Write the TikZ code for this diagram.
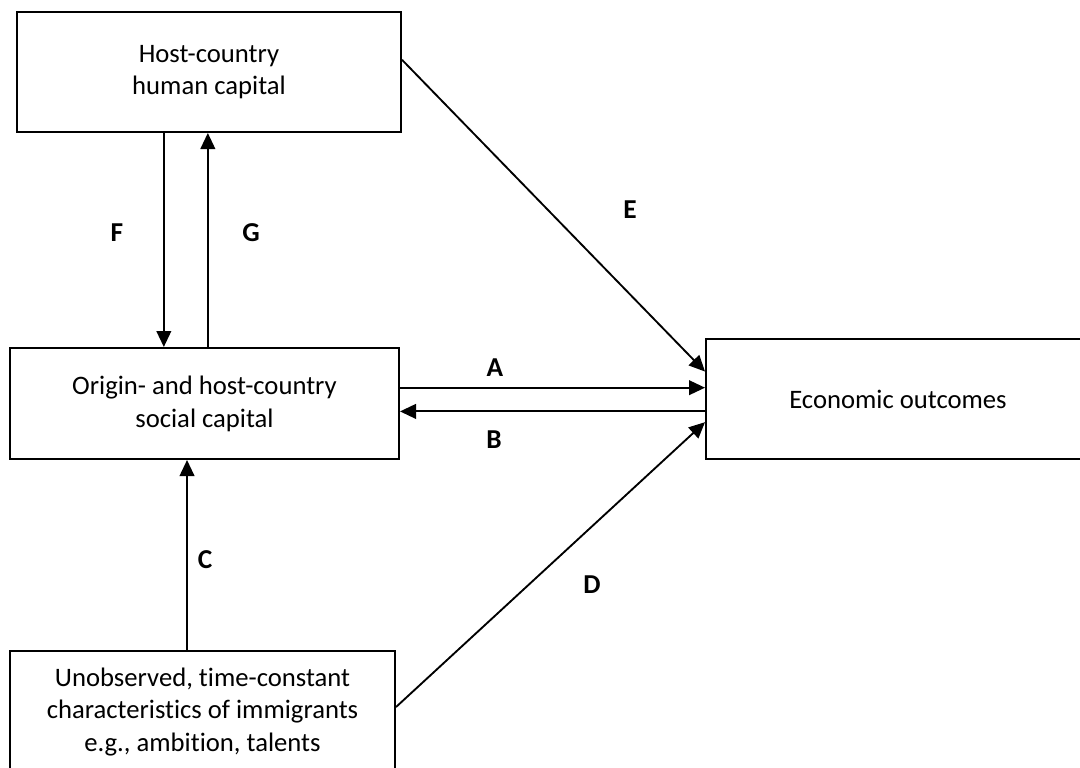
\documentclass[tikz,border=0pt]{standalone}
\usepackage{fontspec}
\setmainfont{Carlito}[Ligatures={NoCommon}]
\usetikzlibrary{calc,arrows.meta}
\begin{document}
\begin{tikzpicture}[x=0.75pt,y=-0.75pt,line width=1.4pt]
\tikzstyle{every node}+=[font=\fontsize{20}{24.6}\selectfont]
\tikzstyle{box}=[draw,line width=1.5pt,align=center,inner sep=0pt]
\tikzstyle{lbl}=[font=\fontsize{20.5}{24}\selectfont\bfseries]
\tikzstyle{arr}=[-{Triangle[length=12pt,width=11pt]}]
\useasboundingbox (0,0) rectangle (1080,767);
% boxes
\node [box,minimum width=288pt,minimum height=90pt] (human) at (209,72) {Host-country\\human capital};
\node [box,minimum width=291.75pt,minimum height=83.25pt] (social) at (204.5,403.5) {Origin- and host-country\\social capital};
\node [box,minimum width=288pt,minimum height=90pt] (econ) at (898,399) {Economic outcomes};
\node [box,minimum width=288.75pt,minimum height=91.5pt] (unobs) at (202.5,712) {Unobserved, time-constant\\characteristics of immigrants\\e.g., ambition, talents};
% connector ends
\coordinate (eOut) at ($(human.north east)!0.4!(human.south east)$);
\coordinate (eIn) at ($(econ.north west)!0.275!(econ.south west)$);
\coordinate (aOut) at ($(social.north east)!0.36!(social.south east)$);
\coordinate (bIn) at ($(social.north east)!0.57!(social.south east)$);
\coordinate (dOut) at ($(unobs.north east)!0.46!(unobs.south east)$);
\coordinate (dIn) at ($(econ.north west)!0.69!(econ.south west)$);
\coordinate (fOut) at ($(human.south west)!0.383!(human.south east)$);
\coordinate (gIn) at ($(human.south west)!0.497!(human.south east)$);
\coordinate (cOut) at ($(unobs.north west)!0.46!(unobs.north east)$);
% arrows
\draw [arr] (eOut) -- (eIn);
\draw [arr] (aOut) -- (aOut -| econ.west);
\draw [arr] (bIn -| econ.west) -- (bIn);
\draw [arr] (dOut) -- (dIn);
\draw [arr] (fOut) -- (fOut |- social.north);
\draw [arr] (gIn |- social.north) -- (gIn);
\draw [arr] (cOut) -- (cOut |- social.south);
% labels
\node [lbl] (labA) at (495,368) {A};
\node [lbl] (labB) at (494,440) {B};
\node [lbl] (labC) at (205,560) {C};
\node [lbl] (labD) at (592,585) {D};
\node [lbl] (labE) at (630,210) {E};
\node [lbl] (labF) at (117,233) {F};
\node [lbl] (labG) at (251,233) {G};
\end{tikzpicture}
\end{document}
